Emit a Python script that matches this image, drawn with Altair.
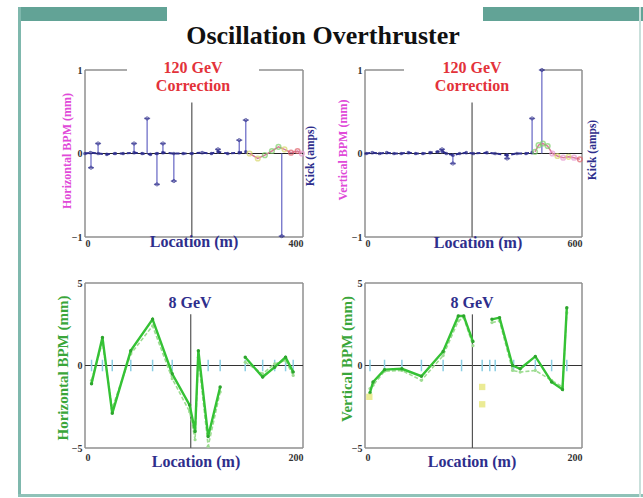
import altair as alt
import pandas as pd

SERIF = "Liberation Serif"
NAVY = "#2e2e8c"
RED = "#e3323a"
MAGENTA = "#e04ad8"
GREEN_TXT = "#3aa63a"
FRAME = "#8f8f8f"
TEAL = "#62a396"

# ---------------- 120 GeV correction, horizontal plane ----------------
h120_loc = [0, 10, 24, 40, 55, 70, 90, 105, 120, 132, 143, 163, 180, 196, 215, 232, 244, 262, 283, 295]
h120_val = [0.00, 0.01, 0.00, -0.01, 0.00, 0.00, 0.01, 0.00, -0.01, 0.00, 0.01, 0.00, 0.00, 0.00, 0.01, 0.00, 0.02, 0.00, 0.01, 0.02]
h120_tail_loc = [302, 317, 330, 343, 355, 366, 378, 390, 398]
h120_tail_val = [0.00, -0.06, -0.02, 0.03, 0.08, 0.05, 0.01, 0.03, 0.00]
h120_tail_bpm = ["A", "A", "B", "B", "B", "A", "C", "C", "D"]
h120_kick_loc = [11, 24, 90, 114, 132, 143, 163, 244, 283, 295, 361]
h120_kick_amp = [-0.17, 0.12, 0.12, 0.42, -0.37, 0.12, -0.33, 0.05, 0.16, 0.40, -0.99]
h120_center = 196

# ---------------- 120 GeV correction, vertical plane ----------------
v120_loc = [3, 20, 40, 60, 80, 100, 120, 140, 160, 180, 200, 213, 225, 243, 262, 280, 300, 337, 360, 393, 420, 445, 462]
v120_val = [0.00, 0.01, 0.00, 0.01, 0.00, 0.00, 0.01, 0.00, 0.00, 0.01, 0.02, 0.03, 0.00, -0.02, 0.00, 0.01, 0.00, 0.01, 0.00, -0.02, 0.00, 0.00, 0.01]
v120_tail_loc = [470, 480, 492, 505, 518, 532, 548, 563, 578, 594]
v120_tail_val = [0.02, 0.10, 0.12, 0.09, 0.00, -0.03, -0.05, -0.04, -0.05, -0.07]
v120_tail_bpm = ["B", "B", "B", "B", "D", "A", "D", "A", "D", "C"]
v120_kick_loc = [213, 243, 393, 462, 489]
v120_kick_amp = [0.05, -0.12, -0.06, 0.42, 1.0]
v120_center = 296

# ---------------- 8 GeV, horizontal plane ----------------
h8_loc = [6, 16, 25, 42, 62, 80, 96, 101, 104, 113, 124, None, 147, 163, 174, 184, 191]
h8_meas = [-1.1, 1.7, -2.9, 0.9, 2.8, -0.5, -2.4, -4.0, 0.9, -4.3, -1.3, None, 0.5, -0.7, -0.1, 0.5, -0.4]
h8_model = [-0.9, 1.4, -2.6, 0.7, 2.4, -0.8, -2.8, -4.5, 0.5, -4.9, -1.6, None, 0.2, -0.5, 0.1, 0.3, -0.6]
h8_bpm_loc = [6, 16, 25, 42, 62, 80, 104, 113, 124, 147, 163, 174, 184, 191]
h8_center = 97

# ---------------- 8 GeV, vertical plane ----------------
v8_loc = [4.6, 7.4, 18, 34, 52, 72, 86, 91, 99.5, None, 117, 124, 136, 143, 157, 172, 182, 186]
v8_meas = [-1.65, -1.0, -0.25, -0.2, -0.65, 0.85, 3.0, 3.0, 1.45, None, 2.8, 2.9, 0.0, -0.2, 0.55, -1.0, -1.45, 3.5]
v8_model = [-1.4, -1.2, -0.35, -0.3, -0.9, 0.6, 2.7, 2.9, 1.2, None, 2.6, 2.7, -0.3, -0.4, -0.3, -0.9, -1.3, 3.2]
v8_bpm_loc = [4.6, 18, 34, 52, 72, 89, 108, 115, 120, 137, 157, 172, 186]
v8_flag_loc = [4, 108, 108]
v8_flag_val = [-1.9, -1.3, -2.35]
v8_center = 99

ONE = pd.DataFrame({"k": [0]})


def x_enc(field, xmax, pad):
    return alt.X(field, type="quantitative",
                 scale=alt.Scale(domain=[0, xmax], nice=False, zero=False),
                 axis=alt.Axis(values=[0, xmax], title=None, ticks=False, domain=False,
                               grid=False, zindex=2, labelFlush=True, labelOverlap=False,
                               labelFont=SERIF, labelFontWeight="bold", labelFontSize=10,
                               labelColor="#333", labelPadding=pad))


def y_enc(field, ymax):
    return alt.Y(field, type="quantitative",
                 scale=alt.Scale(domain=[-ymax, ymax], nice=False, zero=False),
                 axis=alt.Axis(values=[-ymax, 0, ymax], title=None, ticks=False,
                               labelExpr="replace(datum.label, '.0', '')",
                               domain=False, grid=False, zindex=2, labelOverlap=False,
                               labelFont=SERIF, labelFontWeight="bold", labelFontSize=10,
                               labelColor="#333", labelPadding=3))


def label(text, x, y, color, size, angle=0):
    return alt.Chart(ONE).mark_text(
        text=text, font=SERIF, fontWeight="bold", fontSize=size, color=color,
        angle=angle, align="center", baseline="middle"
    ).encode(x=alt.value(x), y=alt.value(y))


def box(x, x2, y, y2, color, opacity=1.0):
    return alt.Chart(ONE).mark_rect(color=color, opacity=opacity, strokeWidth=0).encode(
        x=alt.value(x), x2=alt.value(x2), y=alt.value(y), y2=alt.value(y2))


def hline(x, x2, y, color=FRAME, width=1.5):
    return alt.Chart(ONE).mark_rule(color=color, strokeWidth=width).encode(
        x=alt.value(x), x2=alt.value(x2), y=alt.value(y))


def vline(x, y, y2, color=FRAME, width=1.5):
    return alt.Chart(ONE).mark_rule(color=color, strokeWidth=width).encode(
        x=alt.value(x), y=alt.value(y), y2=alt.value(y2))


tail_colors = alt.Scale(domain=["A", "B", "C", "D"],
                        range=["#d8d86a", "#7fcf6a", "#e0606a", "#e79ad0"])


def correction_panel(w, h, xmax, loc, val, tail_loc, tail_val, tail_bpm,
                     kick_loc, kick_amp, center, gap):
    """120 GeV panel: BPM orbit (mm) with corrector kicks drawn as stems."""
    bpm = pd.DataFrame({"loc": loc, "val": val})
    tail = pd.DataFrame({"loc": tail_loc, "val": tail_val, "bpm": tail_bpm})
    kicks = pd.DataFrame({"loc": kick_loc, "amp": kick_amp, "base": [0.0] * len(kick_loc)})
    mid = pd.DataFrame({"loc": [center], "top": [0.61], "bot": [-1.0]})
    zero = pd.DataFrame({"loc": [0, xmax], "val": [0, 0]})

    frame = [
        vline(0, 0, h), vline(w, 0, h), hline(0, w, h), hline(0, w, 0),
        box(gap[0], gap[1], -12, 27, "white"),
    ]
    base = alt.Chart(zero).mark_line(color="#222", strokeWidth=1).encode(
        x=x_enc("loc", xmax, 1), y=y_enc("val", 1))
    midline = alt.Chart(mid).mark_rule(color="#555", strokeWidth=1.2).encode(
        x=x_enc("loc", xmax, 1), y=y_enc("top", 1), y2="bot")
    stems = alt.Chart(kicks).mark_rule(color="#7070c8", strokeWidth=1.3).encode(
        x=x_enc("loc", xmax, 1), y=y_enc("base", 1), y2="amp")
    caps = alt.Chart(kicks).mark_tick(color=NAVY, size=6, thickness=1.5, orient="horizontal").encode(
        x=x_enc("loc", xmax, 1), y=y_enc("amp", 1))
    tips = alt.Chart(kicks).mark_point(color=NAVY, size=10, strokeWidth=1).encode(
        x=x_enc("loc", xmax, 1), y=y_enc("amp", 1))
    orbit = alt.Chart(bpm).mark_line(color=NAVY, strokeWidth=2, strokeDash=[4, 3]).encode(
        x=x_enc("loc", xmax, 1), y=y_enc("val", 1))
    orbit_pts = alt.Chart(bpm).mark_point(color=NAVY, filled=True, size=14).encode(
        x=x_enc("loc", xmax, 1), y=y_enc("val", 1))
    tail_line = alt.Chart(tail).mark_line(color="#d87a9a", strokeWidth=1.5).encode(
        x=x_enc("loc", xmax, 1), y=y_enc("val", 1))
    tail_pts = alt.Chart(tail).mark_point(size=22, strokeWidth=1.5).encode(
        x=x_enc("loc", xmax, 1), y=y_enc("val", 1),
        color=alt.Color("bpm:N", scale=tail_colors, legend=None))
    return frame + [base, midline, stems, caps, tips, orbit, orbit_pts, tail_line, tail_pts]


def segments(loc, vals, name):
    rows, seg = [], 0
    for x, v in zip(loc, vals):
        if x is None:
            seg += 1
            continue
        rows.append({"loc": x, "val": v, "seg": seg, "series": name})
    return pd.DataFrame(rows)


def orbit_panel(w, h, loc, meas, model, bpm_loc, center):
    """8 GeV panel: measured and predicted difference orbit (mm)."""
    m = segments(loc, meas, "meas")
    p = segments(loc, model, "model")
    ticks = pd.DataFrame({"loc": bpm_loc, "lo": [-0.35] * len(bpm_loc), "hi": [0.35] * len(bpm_loc)})
    mid = pd.DataFrame({"loc": [center], "top": [3.1], "bot": [-5.0]})
    zero = pd.DataFrame({"loc": [0, 200], "val": [0, 0]})

    frame = [vline(0, 0, h), vline(w, 0, h), hline(0, w, h), hline(0, w, 0)]
    base = alt.Chart(zero).mark_line(color="#333", strokeWidth=1.2).encode(
        x=x_enc("loc", 200, 4), y=y_enc("val", 5))
    midline = alt.Chart(mid).mark_rule(color="#555", strokeWidth=1.2).encode(
        x=x_enc("loc", 200, 4), y=y_enc("top", 5), y2="bot")
    bpm_ticks = alt.Chart(ticks).mark_rule(color="#8ccfe4", strokeWidth=1.5).encode(
        x=x_enc("loc", 200, 4), y=y_enc("lo", 5), y2="hi")
    model_line = alt.Chart(p).mark_line(color="#9edc92", strokeWidth=1.6, strokeDash=[4, 2],
                                        point=alt.OverlayMarkDef(color="#9edc92", size=10)).encode(
        x=x_enc("loc", 200, 4), y=y_enc("val", 5), detail="seg:N")
    meas_line = alt.Chart(m).mark_line(color="#35c235", strokeWidth=2.4,
                                       point=alt.OverlayMarkDef(color="#2da52d", size=12)).encode(
        x=x_enc("loc", 200, 4), y=y_enc("val", 5), detail="seg:N")
    return frame + [base, midline, bpm_ticks, model_line, meas_line]


# ---- top left: horizontal correction ----
W1, W2, HT, HB = 218, 217, 167, 165
slide = [
    box(-85, 558, -70, 428, "white"),
    box(-67, 82, -63, -49, TEAL),
    box(398, 558, -63, -49, TEAL),
    box(-67, -64, -63, 427, "#7fb8ad"),
    box(-67, 558, 424, 427, "#8fc2b8"),
    box(554, 556, -63, 427, "#c9e0db"),
]
tl_layers = slide + correction_panel(W1, HT, 400, h120_loc, h120_val, h120_tail_loc, h120_tail_val,
                                     h120_tail_bpm, h120_kick_loc, h120_kick_amp, h120_center, (42, 174))
tl_layers += [
    label("Oscillation Overthruster", 238, -34, "#111", 26),
    label("120 GeV", 108, -2, RED, 16),
    label("Correction", 108, 16, RED, 16),
    label("Location (m)", 109, 172, NAVY, 16),
    label("Horizontal BPM (mm)", -18, 81, MAGENTA, 12, 270),
    label("Kick (amps)", 226, 86, NAVY, 11.5, 270),
]
tl = alt.layer(*tl_layers).properties(width=W1, height=HT)

# ---- top right: vertical correction ----
tr_layers = correction_panel(W2, HT, 600, v120_loc, v120_val, v120_tail_loc, v120_tail_val,
                             v120_tail_bpm, v120_kick_loc, v120_kick_amp, v120_center, (39, 175))
tr_layers += [
    label("120 GeV", 107, -2, RED, 16),
    label("Correction", 107, 16, RED, 16),
    label("Location (m)", 113, 173, NAVY, 16),
    label("Vertical BPM (mm)", -22, 80, MAGENTA, 12, 270),
    label("Kick (amps)", 228, 80, NAVY, 11.5, 270),
]
tr = alt.layer(*tr_layers).properties(width=W2, height=HT)

# ---- bottom left: 8 GeV horizontal ----
bl_layers = orbit_panel(W1, HB, h8_loc, h8_meas, h8_model, h8_bpm_loc, h8_center)
bl_layers += [
    label("8 GeV", 105, 20, NAVY, 16),
    label("Location (m)", 111, 179, NAVY, 16),
    label("Horizontal BPM (mm)", -22, 85, GREEN_TXT, 15, 270),
]
bl = alt.layer(*bl_layers).properties(width=W1, height=HB)

# ---- bottom right: 8 GeV vertical ----
flags = pd.DataFrame({"loc": v8_flag_loc, "val": v8_flag_val})
br_layers = orbit_panel(W2, HB, v8_loc, v8_meas, v8_model, v8_bpm_loc, v8_center)
br_layers += [
    alt.Chart(flags).mark_square(color="#e6e67a", size=40, opacity=0.8).encode(
        x=x_enc("loc", 200, 4), y=y_enc("val", 5)),
    label("8 GeV", 107, 20, NAVY, 16),
    label("Location (m)", 107, 179, NAVY, 16),
    label("Vertical BPM (mm)", -18, 76, GREEN_TXT, 15, 270),
]
br = alt.layer(*br_layers).properties(width=W2, height=HB)

chart = alt.concat(
    tl, tr, bl, br, columns=2, spacing={"row": 46, "column": 62}, bounds="flush"
).properties(
    padding=0, background="white"
).configure_view(stroke=None)

chart.save("out.html", embed_options={"renderer": "svg", "actions": False})
